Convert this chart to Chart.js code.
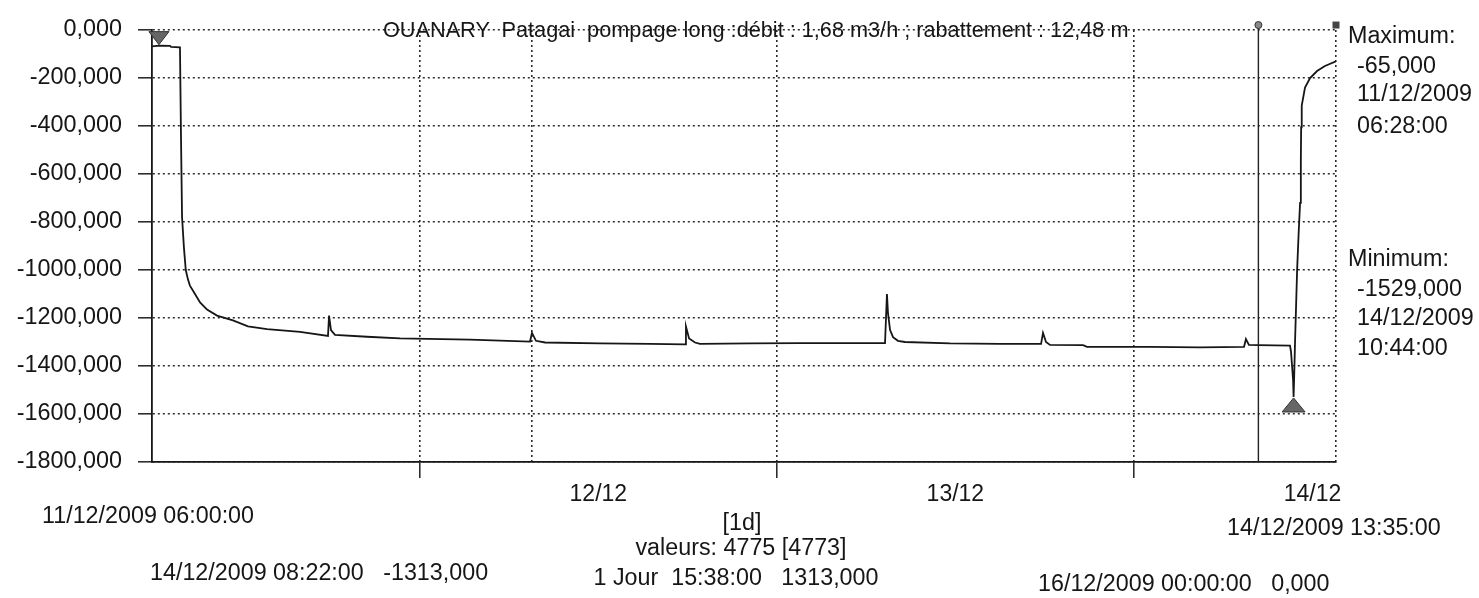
<!DOCTYPE html>
<html><head><meta charset="utf-8">
<script src="https://cdn.jsdelivr.net/npm/chart.js@4.4.1/dist/chart.umd.min.js"></script>
<style>
html,body{margin:0;padding:0;background:#fff;}
#wrap{position:relative;width:1479px;height:598px;overflow:hidden;background:#fff;}
canvas{position:absolute;left:0;top:0;}
.t{position:absolute;font-family:"Liberation Sans",Arial,sans-serif;font-size:23.3px;color:#161616;white-space:pre;line-height:23px;}
.ti{font-size:21.7px;}
</style></head><body>
<div id="wrap">
<canvas id="c" width="1479" height="598"></canvas>
<div class="t ti" style="left:383px;top:18px;">OUANARY  Patagai  pompage long :débit : 1,68 m3/h ; rabattement : 12,48 m</div>
<div class="t" style="left:1348px;top:24px;">Maximum:</div>
<div class="t" style="left:1357px;top:54px;">-65,000</div>
<div class="t" style="left:1357px;top:82px;">11/12/2009</div>
<div class="t" style="left:1357px;top:114px;">06:28:00</div>
<div class="t" style="left:1348px;top:247px;">Minimum:</div>
<div class="t" style="left:1357px;top:277px;">-1529,000</div>
<div class="t" style="left:1357px;top:306px;">14/12/2009</div>
<div class="t" style="left:1357px;top:336px;">10:44:00</div>
<div class="t" style="left:42px;top:504px;">11/12/2009 06:00:00</div>
<div class="t" style="left:150px;top:561px;">14/12/2009 08:22:00   -1313,000</div>
<div class="t" style="left:642px;top:511px;width:200px;text-align:center;">[1d]</div>
<div class="t" style="left:591px;top:536px;width:300px;text-align:center;">valeurs: 4775 [4773]</div>
<div class="t" style="left:586px;top:566px;width:300px;text-align:center;">1 Jour  15:38:00   1313,000</div>
<div class="t" style="left:1227px;top:516px;">14/12/2009 13:35:00</div>
<div class="t" style="left:1038px;top:572px;">16/12/2009 00:00:00   0,000</div>
</div>
<script>
// time in hours since 11/12/2009 06:00:00
const timesH = [0, 0.467, 1.21, 1.28, 1.88, 1.95, 2.02, 2.15, 2.27, 2.42, 2.55, 2.89, 3.23, 3.70, 4.37, 5.44, 6.45, 7.73, 9.95, 11.83, 11.90, 12.03, 12.30, 14.45, 16.67, 21.37, 25.41, 25.54, 25.81, 26.42, 30.11, 33.47, 35.83, 35.89, 36.10, 36.50, 36.83, 40.20, 43.56, 49.27, 49.40, 49.47, 49.61, 49.81, 50.14, 50.61, 53.64, 57.00, 59.76, 59.89, 60.09, 60.36, 62.58, 62.85, 67.08, 70.44, 73.40, 73.53, 73.73, 74.367, 76.49, 76.56, 76.63, 76.70, 76.733, 76.77, 76.83, 76.90, 76.97, 77.07, 77.17, 77.22, 77.24, 77.28, 77.50, 77.84, 78.31, 78.84, 79.58];
const levels = [-68, -65, -66, -70, -72, -450, -780, -910, -1000, -1040, -1065, -1100, -1135, -1165, -1190, -1210, -1235, -1246, -1258, -1275, -1190, -1250, -1270, -1278, -1285, -1290, -1298, -1262, -1295, -1302, -1306, -1308, -1310, -1235, -1285, -1302, -1308, -1306, -1305, -1305, -1100, -1180, -1250, -1280, -1295, -1300, -1306, -1308, -1308, -1262, -1300, -1312, -1313, -1320, -1320, -1322, -1320, -1288, -1312, -1313, -1315, -1340, -1400, -1460, -1529, -1450, -1300, -1150, -1000, -850, -720, -547, -405, -315, -240, -200, -171, -150, -130];
const yMin = -1800, yMax = 0, yStep = 200;
const xMax = 79.5833;                 // 14/12/2009 13:35:00
const dayTicks = [18, 42, 66];        // 12/12, 13/12, 14/12 00:00
const extraGrid = [25.55];
const dayLabelPos = [30, 54, 78];
const dayLabels = ['12/12', '13/12', '14/12'];
const maxPoint = {t: 0.467, v: -65};
const minPoint = {t: 76.733, v: -1529};
const cursor1 = {t: 74.367, v: -1313};
const cursor2 = {t: 90, v: 0};

const FONT = '"Liberation Sans", Arial, sans-serif';
const gridX = dayTicks.concat(extraGrid, [xMax]);
const allXTicks = [0].concat(dayTicks, extraGrid, dayLabelPos, [xMax]).sort((a,b)=>a-b);
const INK = '#161616';
const fmt = v => v.toFixed(3).replace('.', ',');

const markers = {
  id: 'markers',
  afterDatasetsDraw(chart) {
    const {ctx, chartArea, scales: {x, y}} = chart;
    ctx.save();
    const cx = x.getPixelForValue(cursor1.t);
    ctx.strokeStyle = '#222'; ctx.lineWidth = 1.4; ctx.setLineDash([]);
    ctx.beginPath(); ctx.moveTo(cx, chartArea.top - 5); ctx.lineTo(cx, chartArea.bottom); ctx.stroke();
    ctx.fillStyle = '#888'; ctx.strokeStyle = '#333'; ctx.lineWidth = 1;
    ctx.beginPath(); ctx.arc(cx, chartArea.top - 5, 3.5, 0, Math.PI * 2); ctx.fill(); ctx.stroke();
    const c2 = Math.min(x.getPixelForValue(cursor2.t), chartArea.right);
    ctx.fillStyle = '#444';
    ctx.fillRect(c2 - 3.5, chartArea.top - 8.5, 7, 7);
    const mx = x.getPixelForValue(maxPoint.t), my = y.getPixelForValue(maxPoint.v);
    ctx.fillStyle = '#666'; ctx.strokeStyle = '#333';
    ctx.beginPath(); ctx.moveTo(mx, my - 1); ctx.lineTo(mx - 10, my - 14); ctx.lineTo(mx + 10, my - 14); ctx.closePath(); ctx.fill(); ctx.stroke();
    const nx = x.getPixelForValue(minPoint.t), ny = y.getPixelForValue(minPoint.v);
    ctx.beginPath(); ctx.moveTo(nx, ny + 1); ctx.lineTo(nx - 11.5, ny + 15); ctx.lineTo(nx + 11.5, ny + 15); ctx.closePath(); ctx.fill(); ctx.stroke();
    ctx.restore();
  }
};

new Chart(document.getElementById('c'), {
  type: 'line',
  data: { datasets: [{
    data: timesH.map((t, i) => ({x: t, y: levels[i]})),
    borderColor: INK, borderWidth: 1.8, pointRadius: 0, tension: 0, fill: false
  }]},
  options: {
    responsive: false, animation: false, devicePixelRatio: 1,
    layout: { padding: { left: 0, right: 143, top: 20, bottom: 0 } },
    plugins: { legend: { display: false }, tooltip: { enabled: false }, title: { display: false } },
    scales: {
      x: {
        type: 'linear', min: 0, max: xMax,
        afterFit(s) { s.height = 136; },
        afterBuildTicks(s) { s.ticks = allXTicks.map(v => ({value: v})); },
        ticks: {
          autoSkip: false, maxRotation: 0, minRotation: 0, padding: 3, color: INK,
          font: { family: FONT, size: 23 },
          callback: v => { const i = dayLabelPos.indexOf(v); return i >= 0 ? dayLabels[i] : ''; }
        },
        grid: {
          color: c => (c.tick && gridX.includes(c.tick.value)) ? '#2a2a2a' : 'rgba(0,0,0,0)',
          lineWidth: 1.6, tickLength: 16, tickWidth: 1.5,
          tickColor: c => (c.tick && dayTicks.includes(c.tick.value)) ? '#222' : 'rgba(0,0,0,0)'
        },
        border: { display: true, color: INK, width: 1.8, dash: [2, 3] }
      },
      y: {
        min: yMin, max: yMax,
        afterFit(s) { s.width = 152; },
        ticks: { stepSize: yStep, padding: 16, color: INK, font: { family: FONT, size: 23.4 }, callback: v => fmt(v) },
        grid: { color: '#2a2a2a', lineWidth: 1.6, tickLength: 14, tickWidth: 1.5, tickColor: '#222' },
        border: { display: true, color: INK, width: 1.8, dash: [2, 3] }
      }
    }
  },
  plugins: [markers]
});
</script>
</body></html>
